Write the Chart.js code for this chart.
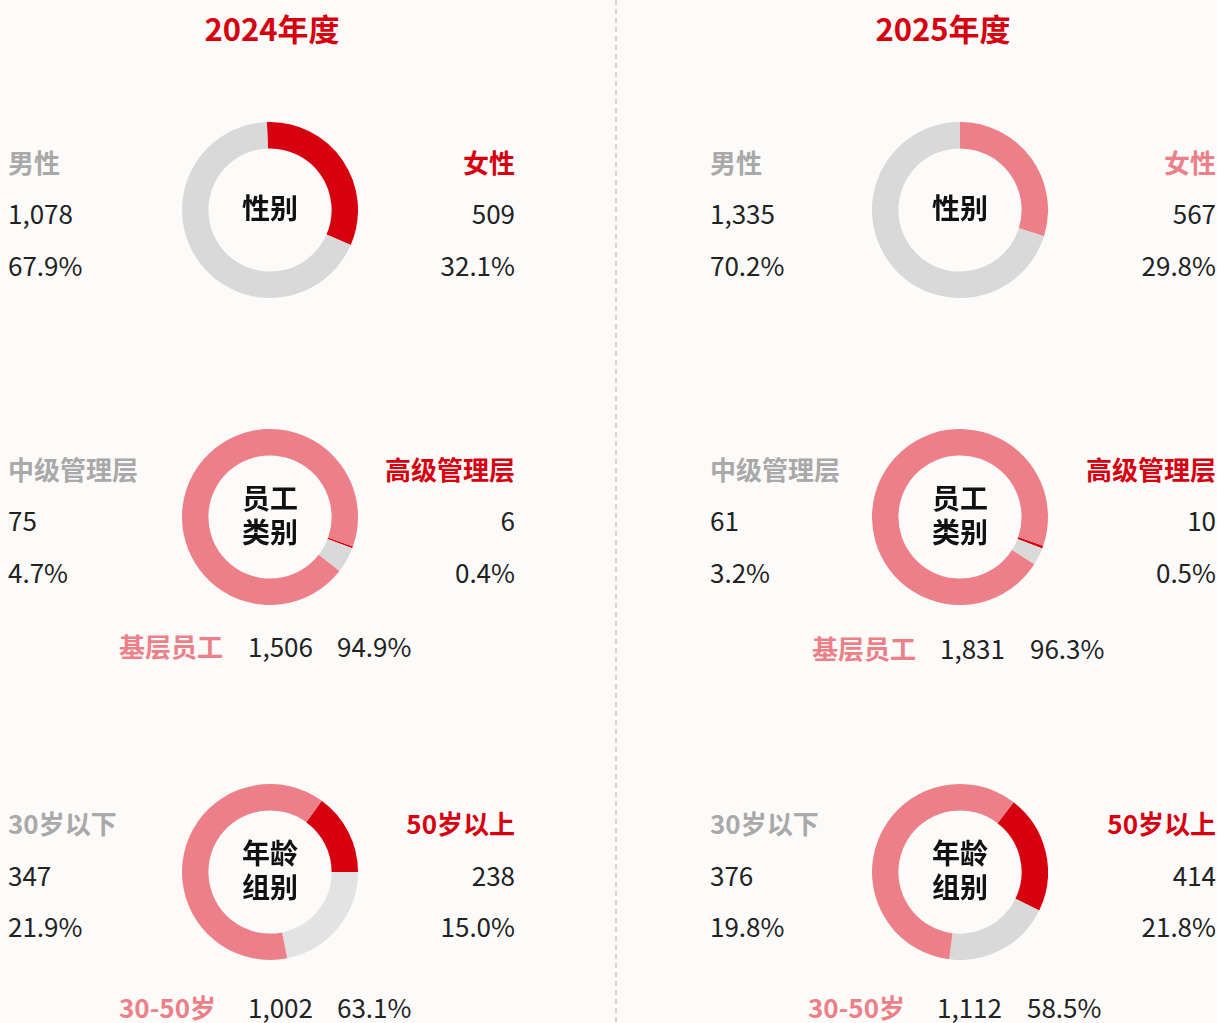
<!DOCTYPE html>
<html lang="zh-CN">
<head>
    <meta charset="UTF-8" />
    <title>员工结构 2024-2025</title>
    <style>
        html, body {
            margin: 0;
            padding: 0;
        }
        body {
            width: 1217px;
            height: 1023px;
            overflow: hidden;
            position: relative;
            background: #fcfbfa;
            font-family: 'Noto Sans CJK SC', 'Noto Sans', sans-serif;
            color: #222;
        }
        .divider {
            position: absolute;
            left: 615px;
            top: 0;
            width: 2px;
            height: 1023px;
            background: repeating-linear-gradient(to bottom, #d2d2d2 0 5px, transparent 5px 9px);
        }
        .title {
            position: absolute;
            width: 300px;
            text-align: center;
            font-size: 31px;
            font-weight: 700;
            line-height: 40px;
            color: #d7000f;
        }
        .txt {
            position: absolute;
            white-space: nowrap;
            line-height: 32px;
        }
        .lbl {
            font-size: 26px;
            font-weight: 700;
        }
        .num {
            font-size: 26px;
            font-weight: 400;
            color: #222;
        }
        .right {
            text-align: right;
        }
        .donut {
            position: absolute;
            width: 176px;
            height: 176px;
        }
        .center {
            position: absolute;
            width: 120px;
            text-align: center;
            font-size: 28px;
            font-weight: 700;
            line-height: 32px;
            color: #111;
        }
    </style>
</head>
<body>
    <div class="divider"></div>

    <script src="https://cdn.jsdelivr.net/npm/chart.js"></script>
    <script>
        // 数据
        const years = ['2024年度', '2025年度'];

        const genderLabels = ['女性', '男性'];
        const gender2024 = [509, 1078];
        const genderPct2024 = [32.1, 67.9];
        const gender2025 = [567, 1335];
        const genderPct2025 = [29.8, 70.2];

        const staffLabels = ['高级管理层', '中级管理层', '基层员工'];
        const staff2024 = [6, 75, 1506];
        const staffPct2024 = [0.4, 4.7, 94.9];
        const staff2025 = [10, 61, 1831];
        const staffPct2025 = [0.5, 3.2, 96.3];

        const ageLabels = ['50岁以上', '30岁以下', '30-50岁'];
        const age2024 = [238, 347, 1002];
        const agePct2024 = [15.0, 21.9, 63.1];
        const age2025 = [414, 376, 1112];
        const agePct2025 = [21.8, 19.8, 58.5];

        const centerTitles = [['性别'], ['员工', '类别'], ['年龄', '组别']];

        // 颜色
        const RED = '#d7000f';
        const PINK = '#ec7f87';
        const GRAY = '#d9d9d9';
        const LIGHTGRAY = '#e3e3e3';
        const LABELGRAY = '#a9a9a9';

        // 布局
        const panels = [
            { titleX: 122, donutX: 270, leftX: 8, rightX: 515, bottomX: [[119, 248, 337], [119, 248, 337]] },
            { titleX: 793, donutX: 960, leftX: 710, rightX: 1216, bottomX: [[812, 940, 1030], [808, 937, 1027]] }
        ];
        const rows = [
            { cy: 210, lines: [163, 214, 266], bottom: null },
            { cy: 517, lines: [470, 521, 573], bottom: 647 },
            { cy: 872, lines: [824, 876, 927], bottom: 1008 }
        ];

        const groups = [
            [
                { labels: genderLabels, values: gender2024, pct: genderPct2024, colors: [RED, GRAY], text: [RED, LABELGRAY], rotation: -2 },
                { labels: staffLabels, values: staff2024, pct: staffPct2024, colors: [RED, GRAY, PINK], text: [RED, LABELGRAY, PINK], rotation: 109.5 },
                { labels: ageLabels, values: age2024, pct: agePct2024, colors: [RED, LIGHTGRAY, PINK], text: [RED, LABELGRAY, PINK], rotation: 36 }
            ],
            [
                { labels: genderLabels, values: gender2025, pct: genderPct2025, colors: [PINK, GRAY], text: [PINK, LABELGRAY], rotation: 0 },
                { labels: staffLabels, values: staff2025, pct: staffPct2025, colors: [RED, GRAY, PINK], text: [RED, LABELGRAY, PINK], rotation: 109 },
                { labels: ageLabels, values: age2025, pct: agePct2025, colors: [RED, GRAY, PINK], text: [RED, LABELGRAY, PINK], rotation: 37.5 }
            ]
        ];

        const fmt = v => v.toLocaleString('en-US');

        function addText(html, cls, x, cy, color, alignRight) {
            const el = document.createElement('div');
            el.className = 'txt ' + cls + (alignRight ? ' right' : '');
            el.textContent = html;
            el.style.top = (cy - 17.5) + 'px';
            if (alignRight) {
                el.style.right = (1217 - x) + 'px';
            } else {
                el.style.left = x + 'px';
            }
            if (color) el.style.color = color;
            document.body.appendChild(el);
        }

        function drawDonut(g, cx, cy) {
            const box = document.createElement('div');
            box.className = 'donut';
            box.style.left = (cx - 88) + 'px';
            box.style.top = (cy - 88) + 'px';
            const canvas = document.createElement('canvas');
            canvas.width = 176;
            canvas.height = 176;
            box.appendChild(canvas);
            document.body.appendChild(box);

            new Chart(canvas.getContext('2d'), {
                type: 'doughnut',
                data: {
                    labels: g.labels,
                    datasets: [{
                        data: g.values,
                        backgroundColor: g.colors,
                        borderWidth: 0
                    }]
                },
                options: {
                    responsive: false,
                    animation: false,
                    events: [],
                    cutout: '70%',
                    rotation: g.rotation,
                    layout: { padding: 0 },
                    plugins: {
                        legend: { display: false },
                        tooltip: { enabled: false }
                    }
                }
            });
        }

        panels.forEach((p, pi) => {
            const t = document.createElement('div');
            t.className = 'title';
            t.textContent = years[pi];
            t.style.left = p.titleX + 'px';
            t.style.top = '8px';
            document.body.appendChild(t);

            groups[pi].forEach((g, ri) => {
                const r = rows[ri];
                drawDonut(g, p.donutX, r.cy);

                // 环中心文字，每行一个元素
                const lines = centerTitles[ri];
                lines.forEach((s, li) => {
                    const c = document.createElement('div');
                    c.className = 'center';
                    c.textContent = s;
                    const lineCy = r.cy + (li - (lines.length - 1) / 2) * 34 - 2;
                    c.style.left = (p.donutX - 60) + 'px';
                    c.style.top = (lineCy - 17) + 'px';
                    document.body.appendChild(c);
                });

                // 左侧
                addText(g.labels[1], 'lbl', p.leftX, r.lines[0], g.text[1], false);
                addText(fmt(g.values[1]), 'num', p.leftX, r.lines[1], null, false);
                addText(g.pct[1].toFixed(1) + '%', 'num', p.leftX, r.lines[2], null, false);

                // 右侧
                addText(g.labels[0], 'lbl', p.rightX, r.lines[0], g.text[0], true);
                addText(fmt(g.values[0]), 'num', p.rightX, r.lines[1], null, true);
                addText(g.pct[0].toFixed(1) + '%', 'num', p.rightX, r.lines[2], null, true);

                // 底部
                if (r.bottom) {
                    const bx = p.bottomX[ri - 1];
                    const by = r.bottom + (pi === 1 && ri === 1 ? 2 : 0);
                    addText(g.labels[2], 'lbl', bx[0], by, g.text[2], false);
                    addText(fmt(g.values[2]), 'num', bx[1], by, null, false);
                    addText(g.pct[2].toFixed(1) + '%', 'num', bx[2], by, null, false);
                }
            });
        });
    </script>
</body>
</html>
